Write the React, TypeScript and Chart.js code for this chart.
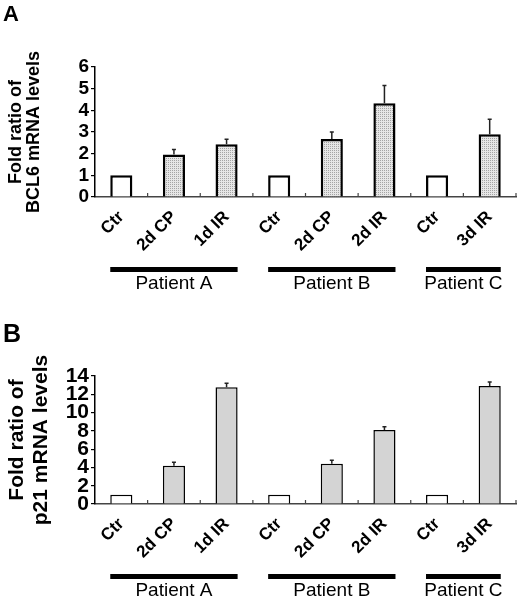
import { useEffect, useRef } from 'react'
import { Chart, registerables } from 'chart.js'

Chart.register(...registerables)

const FONT = "'Liberation Sans', Arial, Helvetica, sans-serif"

// categories on the x axis, three patients
const categories = ['Ctr', '2d CP', '1d IR', 'Ctr', '2d CP', '2d IR', 'Ctr', '3d IR']
const groupNames = ['Patient A', 'Patient B', 'Patient C']
const groupFirst = [0, 3, 6]
const groupLast = [2, 5, 7]

// panel A: BCL6
const bcl6Values = [1, 1.96, 2.43, 1, 2.68, 4.33, 1, 2.9]
const bcl6Errors = [0, 0.23, 0.23, 0, 0.32, 0.82, 0, 0.69]
const bcl6Title = ['Fold ratio of', 'BCL6 mRNA levels']

// panel B: p21
const p21Values = [1, 4.19, 12.77, 1, 4.41, 8.1, 1, 12.9]
const p21Errors = [0, 0.37, 0.43, 0, 0.37, 0.36, 0, 0.45]
const p21Title = ['Fold ratio of', 'p21 mRNA levels']

type PanelProps = {
  values: number[]
  errors: number[]
  yMax: number
  yStep: number
  title: string[]
  titleSize: number
  titleLine: number
  titlePad: number
  tickSize: number
  plotTop: number
  plotBottom: number
  stippled: boolean
  border: number
}

function stipple(): CanvasPattern | string {
  const c = document.createElement('canvas')
  c.width = 2
  c.height = 2
  const g = c.getContext('2d')
  if (!g) return '#d2d2d2'
  g.fillStyle = '#e6e6e6'
  g.fillRect(0, 0, 2, 2)
  g.fillStyle = '#a4a4a4'
  g.fillRect(0, 0, 1, 1)
  return g.createPattern(c, 'repeat') ?? '#d2d2d2'
}

function Panel(p: PanelProps) {
  const canvasRef = useRef<HTMLCanvasElement | null>(null)

  useEffect(() => {
    const ctx = canvasRef.current?.getContext('2d')
    if (!ctx) return
    const fill = p.stippled ? stipple() : '#d4d4d4'
    const colors = categories.map((c) => (c === 'Ctr' ? '#ffffff' : fill))

    const extras = {
      id: 'extras',
      afterDatasetsDraw(chart: Chart) {
        const c = chart.ctx
        const y = chart.scales.y
        const x = chart.scales.x
        const meta = chart.getDatasetMeta(0)
        const base = chart.chartArea.bottom
        c.save()
        // error bars (upper only)
        c.strokeStyle = '#222'
        c.lineWidth = 1.5
        meta.data.forEach((el: any, i: number) => {
          if (!p.errors[i]) return
          const top = y.getPixelForValue(p.values[i] + p.errors[i])
          c.beginPath()
          c.moveTo(el.x, el.y)
          c.lineTo(el.x, top)
          c.moveTo(el.x - 2, top)
          c.lineTo(el.x + 2, top)
          c.stroke()
        })
        // small boundary ticks on the x axis
        c.strokeStyle = '#444'
        c.lineWidth = 1.2
        for (let i = 1; i <= categories.length; i++) {
          const bx = x.getPixelForValue(i - 0.5)
          c.beginPath()
          c.moveTo(bx, base)
          c.lineTo(bx, base - 4)
          c.stroke()
        }
        // patient group bars and names
        c.fillStyle = '#000'
        c.font = `19px ${FONT}`
        c.textAlign = 'center'
        c.textBaseline = 'middle'
        groupNames.forEach((name, g) => {
          const a: any = meta.data[groupFirst[g]]
          const b: any = meta.data[groupLast[g]]
          const left = a.x - a.width / 2
          const right = b.x + b.width / 2
          c.fillRect(left, base + 70, right - left, 5)
          c.fillText(name, (left + right) / 2, base + 87)
        })
        c.restore()
      },
    }

    const chart = new Chart(ctx, {
      type: 'bar',
      data: {
        labels: categories,
        datasets: [
          {
            data: p.values,
            backgroundColor: colors,
            borderColor: '#000',
            borderWidth: p.border,
            barPercentage: 0.42,
            categoryPercentage: 1,
          },
        ],
      },
      options: {
        animation: false,
        responsive: true,
        maintainAspectRatio: false,
        layout: { padding: { top: p.plotTop, right: 4, left: 0, bottom: 0 } },
        plugins: { legend: { display: false }, tooltip: { enabled: false } },
        scales: {
          x: {
            grid: { display: false },
            border: { display: true, color: '#444', width: 1.5 },
            ticks: {
              color: '#000',
              font: { family: FONT, size: 17, weight: 'bold' },
              maxRotation: 45,
              minRotation: 45,
              padding: 2,
              autoSkip: false,
            },
            afterFit: (s: any) => {
              s.height = 300 - p.plotBottom
            },
          },
          y: {
            min: 0,
            max: p.yMax,
            grid: { drawOnChartArea: false, tickLength: 4, color: '#000', lineWidth: 1.2 },
            border: { display: true, color: '#000', width: 1.5 },
            ticks: {
              stepSize: p.yStep,
              autoSkip: false,
              color: '#000',
              padding: 2,
              font: { family: FONT, size: p.tickSize, weight: 'bold' },
            },
            title: {
              display: true,
              text: p.title,
              color: '#000',
              font: { family: FONT, size: p.titleSize, weight: 'bold', lineHeight: p.titleLine },
              padding: { top: p.titlePad, bottom: 0 },
            },
            afterFit: (s: any) => {
              s.width = 95
            },
          },
        },
      },
      plugins: [extras],
    })

    return () => chart.destroy()
  }, [])

  return <canvas ref={canvasRef} />
}

export default function App() {
  return (
    <div style={{ position: 'absolute', left: 0, top: 0, width: 520, height: 600, background: '#fff', fontFamily: FONT }}>
      <div style={{ position: 'absolute', left: 0, top: 0, width: 520, height: 300 }}>
        <Panel
          values={bcl6Values}
          errors={bcl6Errors}
          yMax={6}
          yStep={1}
          title={bcl6Title}
          titleSize={18}
          titleLine={1.0}
          titlePad={7}
          tickSize={19}
          plotTop={67}
          plotBottom={197}
          stippled={true}
          border={2.5}
        />
      </div>
      <div style={{ position: 'absolute', left: 0, top: 300, width: 520, height: 300 }}>
        <Panel
          values={p21Values}
          errors={p21Errors}
          yMax={14}
          yStep={2}
          title={p21Title}
          titleSize={21}
          titleLine={1.14}
          titlePad={5}
          tickSize={21}
          plotTop={76}
          plotBottom={204}
          stippled={false}
          border={1.5}
        />
      </div>
      <div style={{ position: 'absolute', left: 3, top: 1, fontSize: 22, fontWeight: 'bold', lineHeight: '26px' }}>A</div>
      <div style={{ position: 'absolute', left: 3, top: 318, fontSize: 25, fontWeight: 'bold', lineHeight: '30px' }}>B</div>
    </div>
  )
}
